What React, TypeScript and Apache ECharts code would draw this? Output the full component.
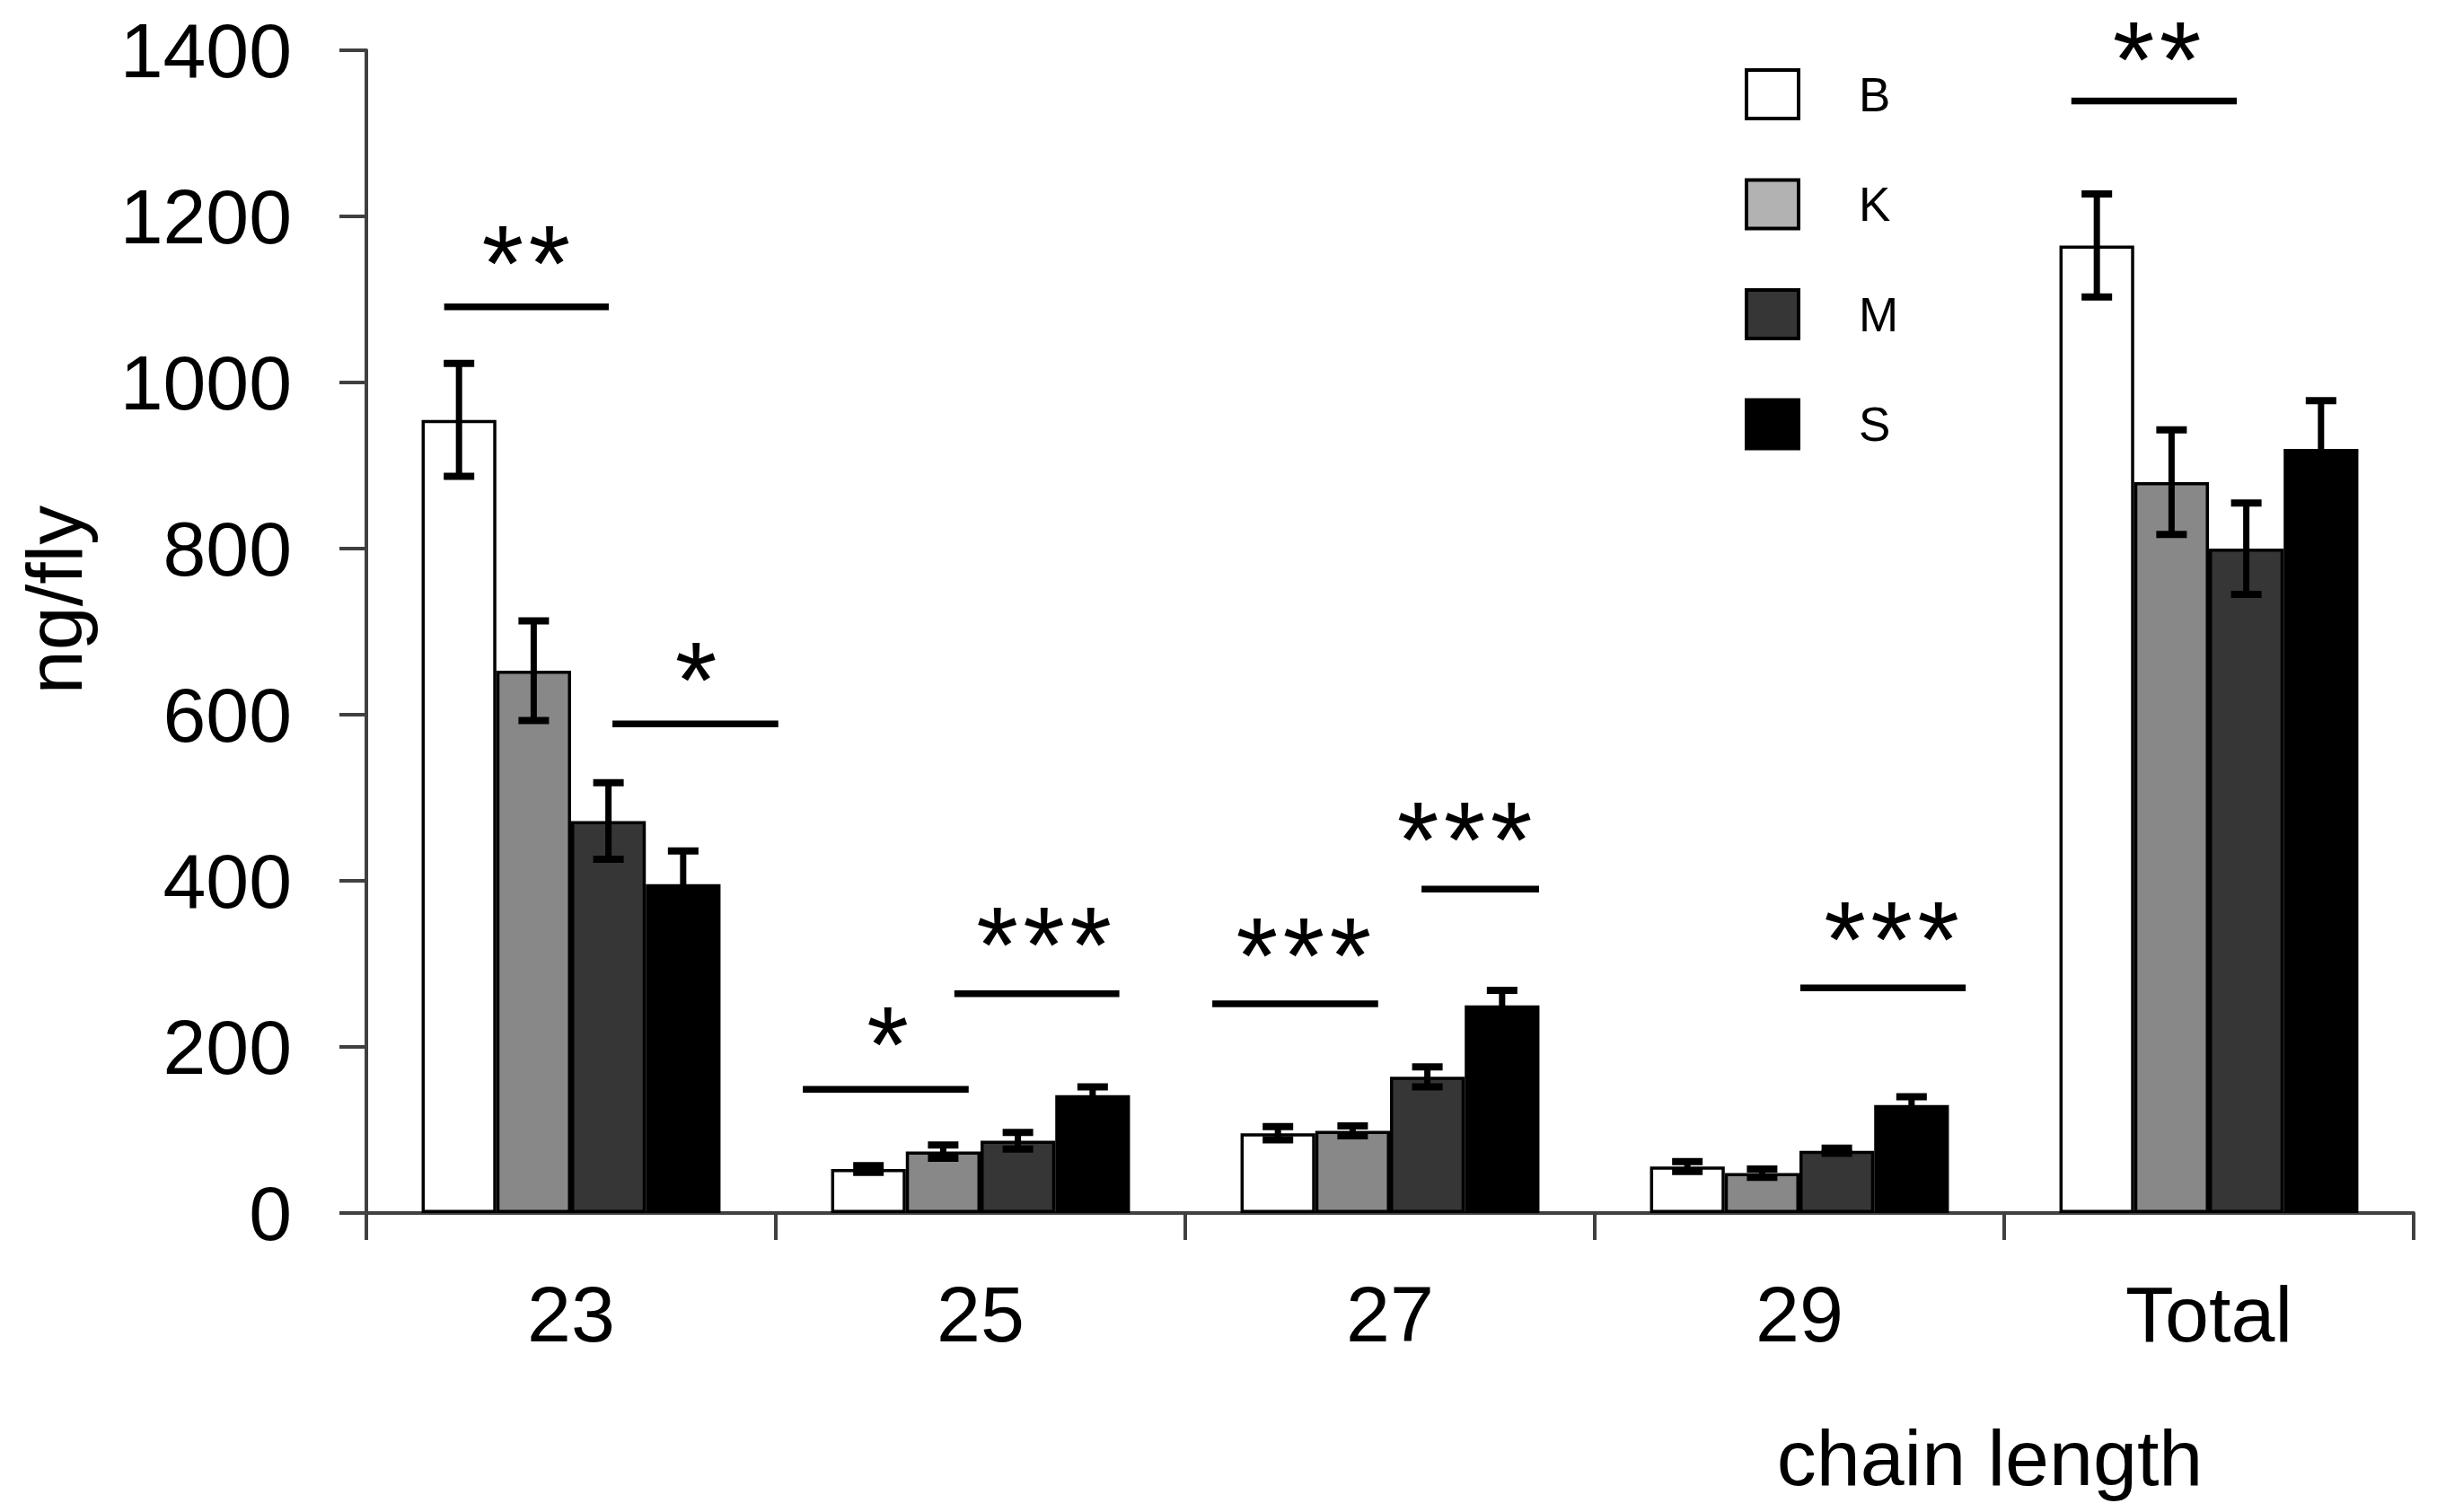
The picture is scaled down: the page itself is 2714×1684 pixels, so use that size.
import React, { useEffect, useRef } from 'react';
import * as echarts from 'echarts';

// ---- data ----
const categories = ['23', '25', '27', '29', 'Total'];
const groups = ['B', 'K', 'M', 'S'];
const valuesB = [955, 53, 96, 56, 1165];
const valuesK = [653, 74, 99, 48, 880];
const valuesM = [472, 87, 164, 75, 800];
const valuesS = [396, 142, 250, 130, 920];
const errorsB = [68, 4, 8, 6, 62];
const errorsK = [60, 8, 6, 5, 63];
const errorsM = [46, 10, 12, 3, 55];
const errorsS = [40, 10, 18, 10, 58];
const yMin = 0;
const yMax = 1400;
const yInterval = 200;

// significance annotations (x in category units, y in ng/fly)
const sigStart = [0.19, 0.601, 1.066, 1.436, 2.066, 2.577, 3.502, 4.164];
const sigEnd = [0.592, 1.006, 1.471, 1.839, 2.471, 2.864, 3.906, 4.568];
const sigLevel = [1091, 589, 149, 264, 252, 390, 271, 1339];
const starX = [0.39, 0.805, 1.273, 1.655, 2.289, 2.682, 3.725, 4.373];
const starY = [1158, 656, 217, 337, 325, 464, 344, 1404];
const starLabels = ['**', '*', '*', '***', '***', '***', '***', '**'];

const seriesValues = [valuesB, valuesK, valuesM, valuesS];
const seriesErrors = [errorsB, errorsK, errorsM, errorsS];

// ---- styles ----
const FONT = '"Liberation Sans", Arial, sans-serif';
const barColors = ['#ffffff', '#888888', '#363636', '#000000'];
const legendColors = ['#ffffff', '#b2b2b2', '#363636', '#000000'];
const AXIS_COLOR = '#404040';
const CAT_GAP = 0.27;
const STAR_FONT = 120;
const STAR_SPACING = 52;
const STAR_SHIFT = 0.11;

export default function App() {
  const ref = useRef<HTMLDivElement>(null);

  useEffect(() => {
    const chart = echarts.init(ref.current as HTMLDivElement, null, { renderer: 'svg' });

    const barSeries = groups.map((g, i) => ({
      type: 'bar',
      name: g,
      data: seriesValues[i],
      barGap: '0%',
      barCategoryGap: `${CAT_GAP * 100}%`,
      itemStyle: { color: barColors[i], borderColor: '#000', borderWidth: 3.5 },
      emphasis: { disabled: true },
      silent: true,
      z: 2,
    }));

    const errorSeries = groups.map((g, i) => ({
      type: 'custom',
      name: g + '-err',
      xAxisIndex: 0,
      yAxisIndex: 0,
      z: 5,
      silent: true,
      clip: false,
      encode: { x: 0, y: [1, 2] },
      data: categories.map((c, k) => [k, seriesValues[i][k] - seriesErrors[i][k], seriesValues[i][k] + seriesErrors[i][k]]),
      renderItem: (params: any, api: any) => {
        const k = api.value(0);
        const band = api.size([1, 0])[0];
        const barW = (band * (1 - CAT_GAP)) / 4;
        const base = api.coord([k, 0]);
        const cx = base[0] + (i - 1.5) * barW;
        const yLo = api.coord([k, api.value(1)])[1];
        const yHi = api.coord([k, api.value(2)])[1];
        const st = { stroke: '#000', lineWidth: 8 };
        return {
          type: 'group',
          children: [
            { type: 'line', shape: { x1: cx, y1: yLo, x2: cx, y2: yHi }, style: { stroke: '#000', lineWidth: 7 } },
            { type: 'line', shape: { x1: cx - 17, y1: yHi, x2: cx + 17, y2: yHi }, style: st },
            { type: 'line', shape: { x1: cx - 17, y1: yLo, x2: cx + 17, y2: yLo }, style: st },
          ],
        };
      },
    }));

    const sigSeries = {
      type: 'custom',
      name: 'sig',
      xAxisIndex: 1,
      yAxisIndex: 0,
      z: 6,
      silent: true,
      clip: false,
      encode: { x: [0, 1, 3], y: [2, 4] },
      data: sigStart.map((s, k) => [s, sigEnd[k], sigLevel[k], starX[k], starY[k], k]),
      renderItem: (params: any, api: any) => {
        const p1 = api.coord([api.value(0), api.value(2)]);
        const p2 = api.coord([api.value(1), api.value(2)]);
        const ps = api.coord([api.value(3), api.value(4)]);
        const label = starLabels[api.value(5)];
        const n = label.length;
        const children: any[] = [
          { type: 'line', shape: { x1: p1[0], y1: p1[1], x2: p2[0], y2: p2[1] }, style: { stroke: '#000', lineWidth: 7.5 } },
        ];
        for (let j = 0; j < n; j++) {
          children.push({
            type: 'text',
            style: {
              text: label[j],
              x: ps[0] + (j - (n - 1) / 2) * STAR_SPACING,
              y: ps[1] + STAR_FONT * STAR_SHIFT,
              fontSize: STAR_FONT,
              fontFamily: FONT,
              fill: '#000',
              align: 'center',
              verticalAlign: 'middle',
            },
          });
        }
        return { type: 'group', children };
      },
    };

    const axisLineStyle = { color: AXIS_COLOR, width: 4 };

    const option: any = {
      animation: false,
      backgroundColor: '#ffffff',
      textStyle: { fontFamily: FONT },
      grid: { left: 408, right: 26, top: 56, bottom: 333, containLabel: false },
      legend: {
        orient: 'vertical',
        left: 1943,
        top: 76,
        padding: 0,
        itemWidth: 58,
        itemHeight: 54,
        itemGap: 64.5,
        selectedMode: false,
        icon: 'rect',
        itemStyle: { borderColor: '#000', borderWidth: 4 },
        textStyle: { fontSize: 53, fontFamily: FONT, color: '#000', padding: [0, 0, 0, 62] },
        data: groups.map((g, i) => ({ name: g, itemStyle: { color: legendColors[i], borderColor: '#000', borderWidth: 4 } })),
      },
      xAxis: [
        {
          type: 'category',
          data: categories,
          axisLine: { show: true, lineStyle: axisLineStyle },
          axisTick: { show: true, length: 30, lineStyle: axisLineStyle },
          axisLabel: { fontSize: 88, fontFamily: FONT, color: '#000', margin: 68 },
          splitLine: { show: false },
        },
        { type: 'value', min: 0, max: 5, show: false },
      ],
      yAxis: {
        type: 'value',
        min: yMin,
        max: yMax,
        interval: yInterval,
        axisLine: { show: true, lineStyle: axisLineStyle },
        axisTick: { show: true, length: 30, lineStyle: axisLineStyle },
        axisLabel: {
          fontSize: 86,
          fontFamily: FONT,
          color: '#000',
          margin: 83,
          formatter: (v: number) => String(v),
        },
        splitLine: { show: false },
      },
      graphic: [
        {
          type: 'text',
          x: 60,
          y: 668,
          rotation: Math.PI / 2,
          style: { text: 'ng/fly', fontSize: 88, fontFamily: FONT, fill: '#000', align: 'center', verticalAlign: 'middle' },
        },
        {
          type: 'text',
          x: 2216,
          y: 1623,
          style: { text: 'chain length', fontSize: 88, fontFamily: FONT, fill: '#000', align: 'center', verticalAlign: 'middle' },
        },
      ],
      series: [...barSeries, ...errorSeries, sigSeries],
    };

    chart.setOption(option);
    return () => chart.dispose();
  }, []);

  return (
    <div
      ref={ref}
      style={{ position: 'absolute', left: 0, top: 0, width: 2714, height: 1684, background: '#ffffff' }}
    />
  );
}
